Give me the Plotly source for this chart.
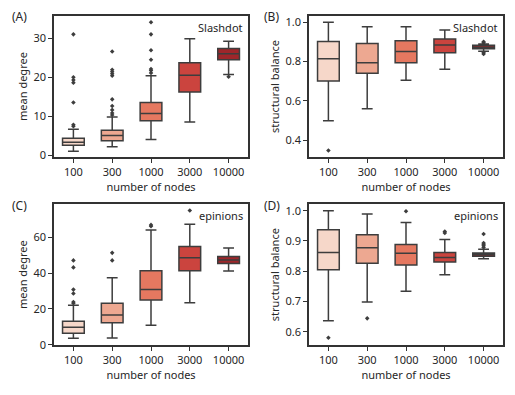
import colorsys
import plotly.graph_objects as go
from plotly.subplots import make_subplots

nodes = ["100", "300", "1000", "3000", "10000"]

# (A) Slashdot mean degree
a_low = [1.0, 2.1, 4.0, 8.5, 20.7]
a_q1 = [2.5, 3.7, 8.8, 16.2, 24.5]
a_med = [3.3, 5.0, 10.7, 20.5, 26.0]
a_q3 = [4.3, 6.4, 13.5, 23.7, 27.4]
a_high = [6.6, 9.8, 20.4, 29.9, 29.2]
a_out = [
    [7.4, 7.8, 13.5, 18.6, 19.3, 20.0, 31.0],
    [10.3, 10.8, 11.6, 12.6, 14.3, 20.4, 20.9, 21.4, 21.9, 26.6],
    [21.1, 21.7, 22.1, 24.5, 26.9, 31.0, 34.1],
    [],
    [20.1],
]

# (B) Slashdot structural balance
b_low = [0.499, 0.560, 0.705, 0.760, 0.852]
b_q1 = [0.700, 0.740, 0.794, 0.844, 0.865]
b_med = [0.814, 0.794, 0.851, 0.884, 0.872]
b_q3 = [0.902, 0.892, 0.905, 0.914, 0.882]
b_high = [1.000, 0.977, 0.977, 0.960, 0.889]
b_out = [[0.347], [], [], [], [0.838, 0.845, 0.895, 0.900]]

# (C) epinions mean degree
c_low = [3.6, 3.8, 10.9, 23.4, 41.2]
c_q1 = [6.5, 12.3, 25.0, 41.3, 45.3]
c_med = [9.8, 16.7, 30.8, 48.6, 47.3]
c_q3 = [13.1, 23.2, 41.3, 54.9, 49.3]
c_high = [22.1, 37.4, 64.0, 67.3, 54.0]
c_out = [
    [23.2, 23.9, 28.6, 30.8, 43.2, 47.1],
    [47.1, 51.3],
    [66.2, 66.9],
    [74.9],
    [],
]

# (D) epinions structural balance
d_low = [0.636, 0.698, 0.734, 0.788, 0.841]
d_q1 = [0.805, 0.826, 0.820, 0.830, 0.849]
d_med = [0.862, 0.877, 0.859, 0.845, 0.855]
d_q3 = [0.937, 0.920, 0.888, 0.862, 0.860]
d_high = [1.000, 0.989, 0.961, 0.905, 0.872]
d_out = [[0.580], [0.644], [0.998], [0.926, 0.931], [0.878, 0.884, 0.889, 0.893, 0.923]]

panels = [
    ("(A)", "Slashdot", "mean degree", a_low, a_q1, a_med, a_q3, a_high, a_out, [-0.6, 35.8], [0, 10, 20, 30], "d"),
    ("(B)", "Slashdot", "structural balance", b_low, b_q1, b_med, b_q3, b_high, b_out, [0.312, 1.033], [0.4, 0.6, 0.8, 1.0], ".1f"),
    ("(C)", "epinions", "mean degree", c_low, c_q1, c_med, c_q3, c_high, c_out, [-0.1, 78.4], [0, 20, 40, 60], "d"),
    ("(D)", "epinions", "structural balance", d_low, d_q1, d_med, d_q3, d_high, d_out, [0.556, 1.021], [0.6, 0.7, 0.8, 0.9, 1.0], ".1f"),
]


def desat(hexcol, s=0.75):
    # seaborn boxplot desaturates its palette
    r, g, b = (int(hexcol[i:i + 2], 16) / 255 for i in (1, 3, 5))
    h, l, sat = colorsys.rgb_to_hls(r, g, b)
    r, g, b = colorsys.hls_to_rgb(h, l, sat * s)
    return "rgb(%d,%d,%d)" % (round(r * 255), round(g * 255), round(b * 255))


colors = [desat(c) for c in ["#fdd4c2", "#fca082", "#fb6a4a", "#e32f27", "#b21218"]]
edge = "#3d3d3d"
frame = "#333333"
font = "Noto Sans"

fig = make_subplots(rows=2, cols=2)

W, H = 515, 395
xdom = [[54 / W, 248 / W], [309 / W, 503 / W]]
ydom = [[1 - 159 / H, 1 - 14 / H], [1 - 351 / H, 1 - 207 / H]]
label_pos = [(10, 15), (262, 15), (10, 208), (262, 208)]

for k, (lab, net, ytitle, lo, q1, med, q3, hi, outs, yr, yt, fmt) in enumerate(panels):
    row, col = k // 2 + 1, k % 2 + 1
    for i, n in enumerate(nodes):
        fig.add_trace(go.Box(
            x=[n], q1=[q1[i]], median=[med[i]], q3=[q3[i]],
            lowerfence=[lo[i]], upperfence=[hi[i]],
            fillcolor=colors[i], line=dict(color=edge, width=1.5),
            whiskerwidth=0.5, boxpoints=False, showlegend=False
        ), row=row, col=col)
        if outs[i]:
            fig.add_trace(go.Scatter(
                x=[n] * len(outs[i]), y=outs[i], mode="markers",
                marker=dict(symbol="diamond", size=3.5, color=edge),
                showlegend=False
            ), row=row, col=col)
    ax = "" if k == 0 else str(k + 1)
    fig.update_xaxes(
        type="category", categoryorder="array", categoryarray=nodes,
        range=[-0.5, 4.5], domain=xdom[col - 1],
        showline=True, mirror=True, linecolor=frame, linewidth=1.5,
        ticks="outside", ticklen=4, tickcolor=frame, tickwidth=1.2, showgrid=False,
        title=dict(text="number of nodes", standoff=2, font=dict(size=11)),
        row=row, col=col
    )
    fig.update_yaxes(
        range=yr, tickvals=yt, tickformat=fmt, domain=ydom[row - 1],
        showline=True, mirror=True, linecolor=frame, linewidth=1.5,
        ticks="outside", ticklen=4, tickcolor=frame, tickwidth=1.2,
        showgrid=False, zeroline=False,
        title=dict(text=ytitle, standoff=4, font=dict(size=11)),
        row=row, col=col
    )
    lx, ly = label_pos[k]
    fig.add_annotation(
        text=lab, xref="paper", yref="paper", x=lx / W, y=1 - ly / H,
        xanchor="left", yanchor="middle", showarrow=False, font=dict(size=12)
    )
    fig.add_annotation(
        text=net, xref="x%s domain" % ax, yref="y%s domain" % ax, x=0.985, y=0.985,
        xanchor="right", yanchor="top", showarrow=False, font=dict(size=11)
    )

fig.update_layout(
    width=W, height=H,
    margin=dict(l=0, r=0, t=0, b=0),
    plot_bgcolor="white", paper_bgcolor="white",
    font=dict(family=font, size=11, color="#262626"),
    boxgap=0.2,
)

fig.write_html("out.html", config={"displayModeBar": False},
               post_script="document.body.style.margin='0px';")
